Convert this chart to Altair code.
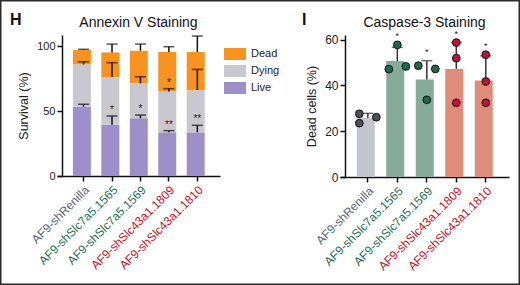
import altair as alt
import pandas as pd

# ---------------- data ----------------
groups = ["AF9-shRenilla", "AF9-shSlc7a5.1565", "AF9-shSlc7a5.1569",
          "AF9-shSlc43a1.1809", "AF9-shSlc43a1.1810"]

# Annexin V staining: segment heights (%) and upward SD
live = [53.3, 39.5, 44.4, 33.6, 33.6]
dying = [32.6, 36.7, 26.9, 31.5, 32.6]
dead = [11.0, 18.9, 25.1, 30.3, 29.2]
live_sd = [1.9, 6.7, 2.5, 1.3, 5.4]
dying_sd = [2.0, 11.0, 5.1, 2.1, 15.8]
dead_sd = [0.6, 6.4, 5.1, 4.1, 12.3]
live_sig = ["", "*", "*", "**", "**"]
dying_sig = ["", "", "", "*", ""]
dead_sig = ["", "", "", "", ""]
states = ["Dead", "Dying", "Live"]

# Caspase-3 staining
casp_mean = [25.8, 50.6, 42.6, 47.2, 42.1]
casp_sd = [2.0, 6.0, 8.2, 11.5, 10.8]
casp_rep = [[27.6, 23.5, 26.1], [57.7, 47.1, 48.3], [48.6, 47.2, 33.7],
            [58.7, 51.9, 32.4], [53.4, 41.7, 32.4]]
rep_slot = [["L", "L", "R"], ["C", "L", "R"], ["L", "R", "C"],
            ["C", "C", "C"], ["C", "C", "C"]]
casp_sig = ["", "*", "*", "*", "*"]

panel_titles = ["Annexin V Staining", "Caspase-3 Staining"]
panel_letters = ["H", "I"]

# ---------------- styles ----------------
state_colors = ["#F7931E", "#C9C8CF", "#9D8FC8"]
bar_colors = ["#C4C4CE", "#87AB9A", "#87AB9A", "#E08C7D", "#E08C7D"]
dot_colors = ["#4B515B", "#1C6B4D", "#1C6B4D", "#C4103A", "#C4103A"]
label_expr = ("datum.label == 'AF9-shRenilla' ? '#56657A' : "
              "(indexof(datum.label, 'Slc7a5') >= 0 ? '#1F6F55' : '#C8102E')")
FONT = "Liberation Sans"
NARROW = "Liberation Sans Narrow, Liberation Sans"

# layout (pixels)
CANVAS_W, CANVAS_H = 520, 285
LEFT_X, TOP_Y = 57, 35          # left plot origin on the canvas
RIGHT_X = 340                   # right plot origin on the canvas
WL, HL = 163, 141
WR, HR = 169, 142

# ---------------- build tables ----------------
rows = []
for i, g in enumerate(groups):
    bottom = 0.0
    for st, vals, sds, sigs in [("Live", live, live_sd, live_sig),
                                ("Dying", dying, dying_sd, dying_sig),
                                ("Dead", dead, dead_sd, dead_sig)]:
        top = bottom + vals[i]
        rows.append(dict(group=g, state=st, bottom=bottom, top=top,
                         errtop=top + sds[i], sig=sigs[i]))
        bottom = top
annex = pd.DataFrame(rows)

casp = pd.DataFrame(dict(group=groups, mean=casp_mean,
                         errtop=[m + s for m, s in zip(casp_mean, casp_sd)],
                         sig=casp_sig))
casp["startop"] = [max(e, max(r)) for e, r in zip(casp["errtop"], casp_rep)]
dots = pd.DataFrame([dict(group=g, value=v, slot=s)
                     for g, vs, ss in zip(groups, casp_rep, rep_slot)
                     for v, s in zip(vs, ss)])


def header(letter, title, width, letter_x):
    d = pd.DataFrame({"t": [letter]})
    let = alt.Chart(d).mark_text(
        fontSize=16, fontWeight="bold", align="left", baseline="alphabetic", color="#111"
    ).encode(x=alt.value(letter_x), y=alt.value(-10), text="t:N")
    d2 = pd.DataFrame({"t": [title]})
    tit = alt.Chart(d2).mark_text(
        fontSize=14, align="center", baseline="alphabetic", color="#111"
    ).encode(x=alt.value(width / 2), y=alt.value(-8), text="t:N")
    return let, tit


# thin frame around the whole figure
frame = alt.Chart(pd.DataFrame({"f": [0]})).mark_rect(
    fillOpacity=0, stroke="#2b2b2b", strokeWidth=1.5
).encode(
    x=alt.value(-LEFT_X + 0.75), x2=alt.value(CANVAS_W - LEFT_X - 0.75),
    y=alt.value(-TOP_Y + 0.75), y2=alt.value(CANVAS_H - TOP_Y - 0.75),
)

xaxis = alt.Axis(title=None, labelAngle=-45, labelFontSize=12,
                 labelColor={"expr": label_expr}, labelPadding=3)

# ---------------- left panel ----------------
xband_l = alt.Scale(domain=groups, paddingInner=0.25, paddingOuter=0.49, align=0.57)
yl = alt.Scale(domain=[0, 108.5], nice=False)

base_l = alt.Chart(annex)
bars_l = base_l.mark_bar().encode(
    x=alt.X("group:N", scale=xband_l, axis=xaxis, sort=groups),
    y=alt.Y("top:Q", scale=yl,
            axis=alt.Axis(values=[0, 25, 50, 75, 100], title="Survival (%)", offset=-5,
                          labelFontSize=11, titleFontSize=12.5, titleFont=NARROW,
                          titleFontWeight="normal", titlePadding=6)),
    y2="bottom:Q",
    color=alt.Color("state:N", scale=alt.Scale(domain=states, range=state_colors),
                    legend=alt.Legend(title=None, orient="none", legendX=172, legendY=13,
                                      symbolType="M-1.83,-1L1.83,-1L1.83,1L-1.83,1Z",
                                      symbolSize=144, symbolStrokeWidth=0, symbolOpacity=1,
                                      labelFontSize=11, labelColor="#222", labelOffset=10,
                                      rowPadding=5, padding=0)),
)
err_l = base_l.mark_rule(color="#111", strokeWidth=1.5).encode(
    x=alt.X("group:N", scale=xband_l, sort=groups), y="top:Q", y2="errtop:Q")
cap_l = base_l.mark_tick(color="#111", thickness=1.5, size=11).encode(
    x=alt.X("group:N", scale=xband_l, sort=groups), y="errtop:Q")
star_l = base_l.mark_text(fontSize=10, dy=-6, color="#222").encode(
    x=alt.X("group:N", scale=xband_l, sort=groups), y="errtop:Q", text="sig:N")
let_h, tit_h = header(panel_letters[0], panel_titles[0], WL, -47)

left = alt.layer(frame, bars_l, err_l, cap_l, star_l, let_h, tit_h).properties(width=WL, height=HL)

# ---------------- right panel ----------------
xband_r = alt.Scale(domain=groups, paddingInner=0.25, paddingOuter=0.49, align=0.58)
yr = alt.Scale(domain=[0, 62], nice=False)

base_r = alt.Chart(casp)
bars_r = base_r.mark_bar().encode(
    x=alt.X("group:N", scale=xband_r, axis=xaxis, sort=groups),
    y=alt.Y("mean:Q", scale=yr,
            axis=alt.Axis(values=[0, 10, 20, 30, 40, 50, 60], title="Dead cells (%)",
                          offset=-5, labelFontSize=12, titleFontSize=12.5, titleFont=NARROW,
                          titleFontWeight="normal", titlePadding=6)),
    color=alt.Color("group:N", scale=alt.Scale(domain=groups, range=bar_colors), legend=None),
)
err_r = base_r.mark_rule(color="#333", strokeWidth=1.5).encode(
    x=alt.X("group:N", scale=xband_r, sort=groups), y="mean:Q", y2="errtop:Q")
cap_r = base_r.mark_tick(color="#333", thickness=1.5, size=11).encode(
    x=alt.X("group:N", scale=xband_r, sort=groups), y="errtop:Q")
dots_r = alt.Chart(dots).mark_circle(size=60, opacity=1, stroke="#111", strokeWidth=1).encode(
    x=alt.X("group:N", scale=xband_r, sort=groups),
    xOffset=alt.XOffset("slot:N", scale=alt.Scale(type="point", domain=["L", "C", "R"], padding=0.3)),
    y=alt.Y("value:Q", scale=yr),
    fill=alt.Fill("group:N", scale=alt.Scale(domain=groups, range=dot_colors), legend=None),
)
star_r = base_r.mark_text(fontSize=9, dy=-9, color="#222").encode(
    x=alt.X("group:N", scale=xband_r, sort=groups), y="startop:Q", text="sig:N")
let_i, tit_i = header(panel_letters[1], panel_titles[1], WR, -38)

right = alt.layer(bars_r, err_r, cap_r, dots_r, star_r, let_i, tit_i).properties(width=WR, height=HR)

chart = alt.hconcat(left, right, spacing=RIGHT_X - LEFT_X - WL, bounds="flush").resolve_scale(
    color="independent", x="independent", y="independent"
).properties(
    padding={"left": 0, "top": 0, "right": 0, "bottom": 0}
).configure(font=FONT).configure_view(stroke=None).configure_axis(
    grid=False, domainColor="#111", domainWidth=1.5, tickColor="#111", tickWidth=1.5,
    tickSize=5, labelColor="#222", titleColor="#222", labelFont=FONT
)

chart.save("out.html", embed_options={"renderer": "svg", "actions": False})
